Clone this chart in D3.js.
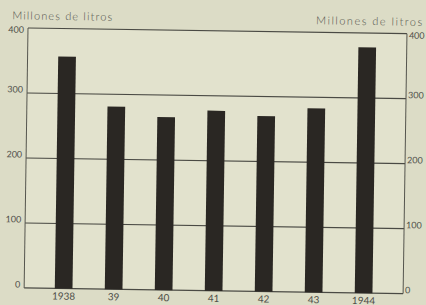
<!DOCTYPE html>
<html>
<head>
<meta charset="utf-8">
<script src="https://cdn.jsdelivr.net/npm/d3@7"></script>
<style>
  html, body { margin: 0; padding: 0; background: #dcdcc6; }
  svg { display: block; }
  text { font-family: Lato, "DejaVu Sans", sans-serif; fill: #4e4e48; }
</style>
</head>
<body>
<svg id="chart" width="426" height="305"></svg>
<script>
const categories = ["1938", "39", "40", "41", "42", "43", "1944"];
const values = [357, 281, 266, 277, 270, 283, 378];
const yTicks = [0, 100, 200, 300, 400];
const axisTitle = "Millones de litros";

const W = 426, H = 305;
const m = { left: 28, right: 19, top: 28, bottom: 17 };
const pw = W - m.left - m.right, ph = H - m.top - m.bottom;
const font = "Lato, 'DejaVu Sans', sans-serif";

const svg = d3.select("#chart");
svg.append("rect").attr("width", W).attr("height", H).attr("fill", "#dcdcc6");

const g = svg.append("g")
  .attr("transform", `rotate(0.85, ${m.left}, ${m.top}) translate(${m.left},${m.top})`);

const x = d3.scaleBand().domain(categories).range([0, pw])
  .paddingInner(0.646).paddingOuter(0.613);
const y = d3.scaleLinear().domain([0, 400]).range([ph, 0]);

g.append("rect").attr("width", pw).attr("height", ph).attr("fill", "#e2e2cd");

// gridlines
g.append("g").selectAll("line").data(yTicks).join("line")
  .attr("x1", 0).attr("x2", pw)
  .attr("y1", d => y(d)).attr("y2", d => y(d))
  .attr("stroke", "#4a4a44").attr("stroke-width", 1.2);

// frame verticals
g.append("line").attr("x1", 0).attr("x2", 0).attr("y1", 0).attr("y2", ph)
  .attr("stroke", "#55554e").attr("stroke-width", 1);
g.append("line").attr("x1", pw).attr("x2", pw).attr("y1", 0).attr("y2", ph)
  .attr("stroke", "#55554e").attr("stroke-width", 1);

// bars
g.append("g").selectAll("rect").data(values).join("rect")
  .attr("x", (d, i) => x(categories[i]))
  .attr("width", x.bandwidth())
  .attr("y", d => y(d))
  .attr("height", d => y(0) - y(d))
  .attr("fill", "#2a2723");

function styleTicks(sel) {
  sel.select(".domain").remove();
  sel.selectAll("text")
    .attr("dy", d => d === 400 ? "0.5em" : "-0.1em")
    .attr("font-size", 9)
    .style("font-family", font).attr("fill", "#4e4e48");
}

// left axis labels
g.append("g").call(d3.axisLeft(y).tickValues(yTicks).tickSize(0).tickPadding(4)).call(styleTicks);

// right axis labels
g.append("g").attr("transform", `translate(${pw},0)`)
  .call(d3.axisRight(y).tickValues(yTicks).tickSize(0).tickPadding(2)).call(styleTicks);

// bottom labels
const ba = g.append("g").attr("transform", `translate(0,${ph})`)
  .call(d3.axisBottom(x).tickSize(0).tickPadding(4));
ba.select(".domain").remove();
ba.selectAll("text").attr("font-size", 10)
  .style("font-family", font).attr("fill", "#3e3e38");

// titles
g.append("text").attr("x", 12 - m.left).attr("y", 19.5 - m.top)
  .attr("font-size", 11).attr("font-weight", 300).attr("fill", "#55554e")
  .attr("textLength", 100).attr("lengthAdjust", "spacing")
  .text(axisTitle);
g.append("text").attr("x", 422 - m.left).attr("y", 20 - m.top)
  .attr("text-anchor", "end")
  .attr("font-size", 11).attr("font-weight", 300).attr("fill", "#55554e")
  .attr("textLength", 106).attr("lengthAdjust", "spacing")
  .text(axisTitle);
</script>
</body>
</html>
